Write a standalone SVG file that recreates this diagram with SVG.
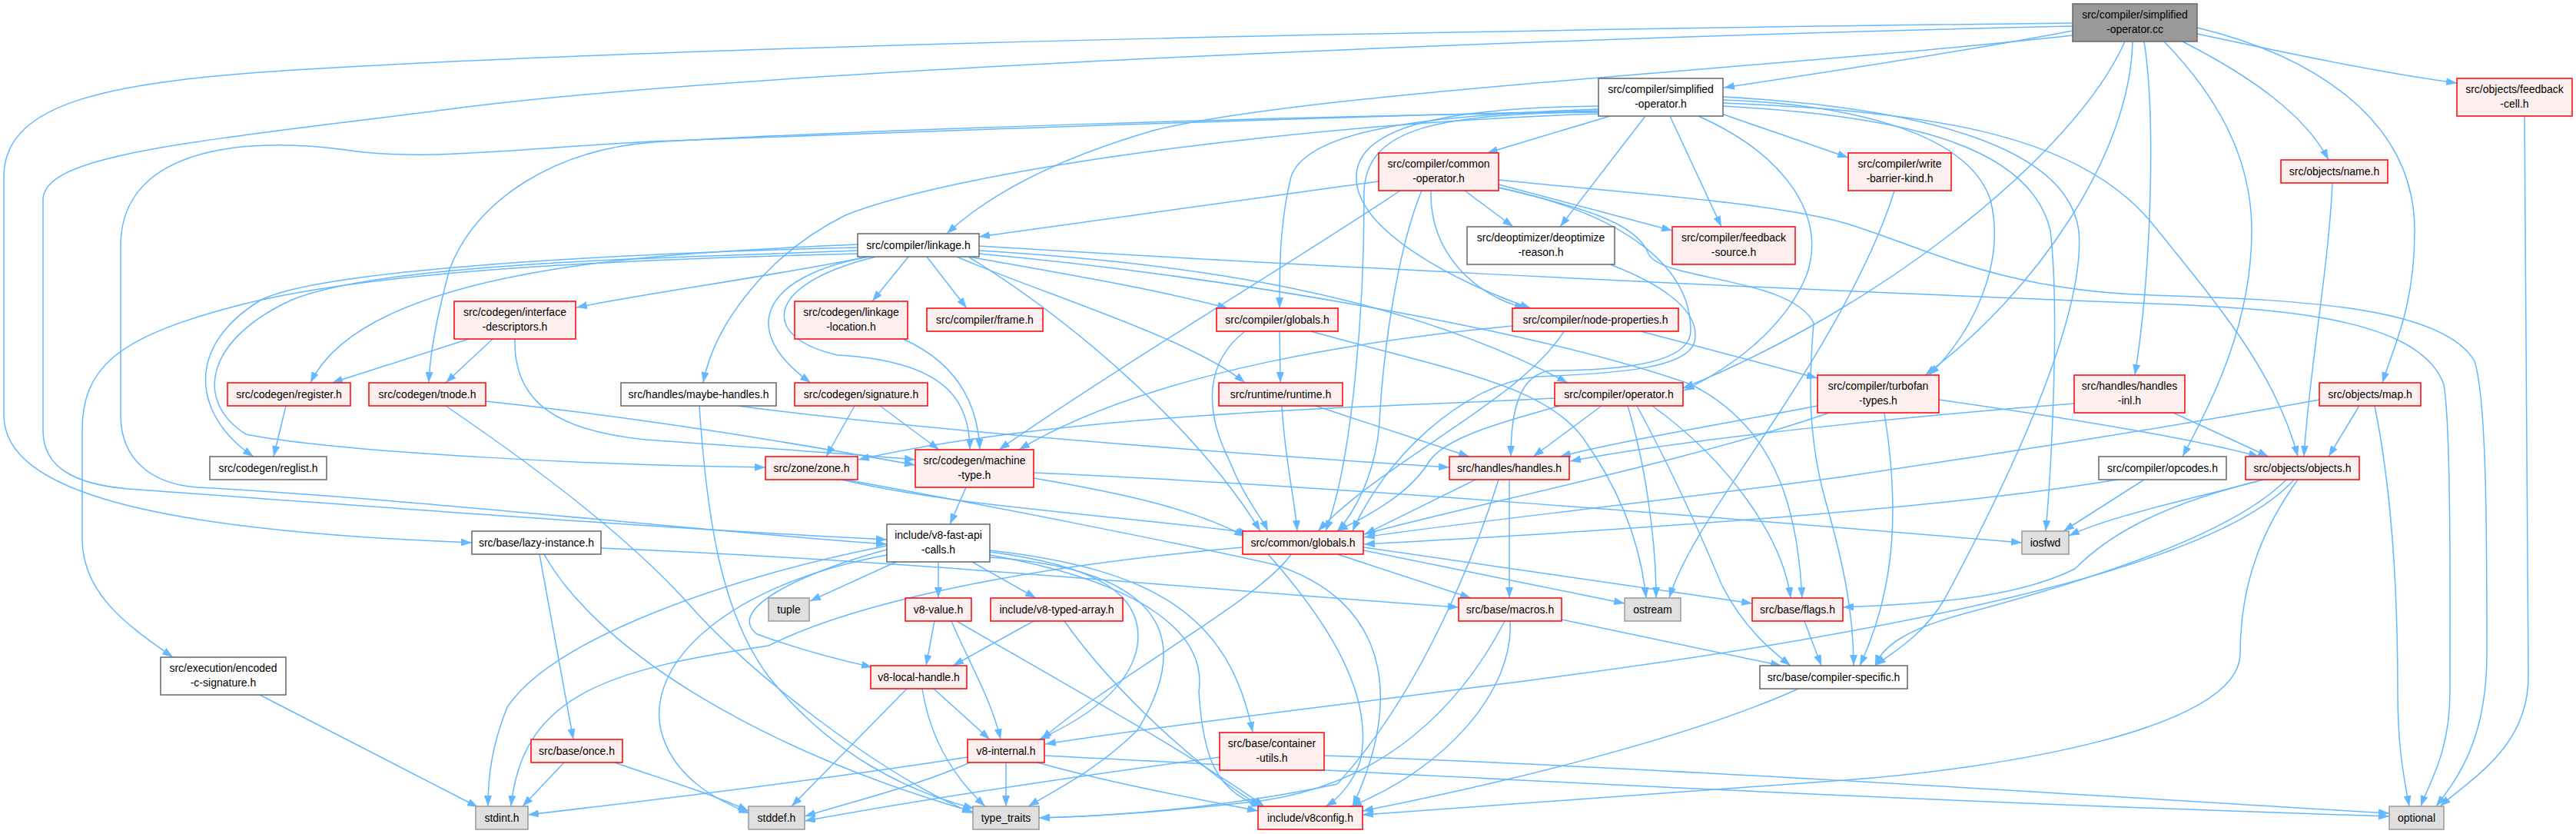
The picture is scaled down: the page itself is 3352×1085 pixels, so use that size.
<svg xmlns="http://www.w3.org/2000/svg" width="3352" height="1085" viewBox="0 0 3352 1085">
<defs>
<style>
.e{fill:none;stroke:#63b8ff;stroke-width:1.5;marker-end:url(#a)}
.nd rect{stroke-width:1.5}
.r rect{fill:#fff0f0;stroke:#ff0000}
.w rect{fill:#ffffff;stroke:#666666}
.g rect{fill:#e0e0e0;stroke:#999999}
.k rect{fill:#999999;stroke:#666666}
text{font-family:"Liberation Sans",Arial,Helvetica,sans-serif;font-size:14px;fill:#000000;text-anchor:middle}
</style>
<marker id="a" viewBox="0 0 14 10" refX="14" refY="5" markerWidth="14" markerHeight="10" markerUnits="userSpaceOnUse" orient="auto"><path d="M0,0 L14,5 L0,10 z" fill="#63b8ff"/></marker>
</defs>
<rect x="0" y="0" width="3352" height="1085" fill="#ffffff"/>
<g id="connectors">
<path class="e" d="M2697,40 C2550,68 2350,98 2243,114"/>
<path class="e" d="M2859,44 C2980,70 3100,95 3197,108"/>
<path class="e" d="M2840,54 C2930,100 3000,150 3030,208"/>
<path class="e" d="M2859,36 C3000,70 3142,150 3142,300 C3142,400 3115,450 3100,498"/>
<path class="e" d="M2816,54 C2880,120 2930,200 2930,300 C2930,420 2880,520 2840,594"/>
<path class="e" d="M2790,54 C2805,150 2800,350 2778,488"/>
<path class="e" d="M2775,54 C2772,200 2650,380 2505,488"/>
<path class="e" d="M2765,54 C2700,200 2450,400 2190,505"/>
<path class="e" d="M2697,46 C2300,90 1700,120 1500,170 C1380,205 1290,250 1232,304"/>
<path class="e" d="M2697,30 C2000,38 1000,55 400,90 C150,105 5,130 5,230 L5,540 C5,640 200,690 614,706"/>
<path class="e" d="M2697,34 C2000,50 1000,90 600,140 C250,185 56,200 56,260 L56,560 C56,610 100,630 166,636 C500,660 900,690 1154,702"/>
<path class="e" d="M2095,151 L1935,199"/>
<path class="e" d="M2240,148 L2405,205"/>
<path class="e" d="M2141,151 L2030,295"/>
<path class="e" d="M2173,151 L2240,295"/>
<path class="e" d="M2080,138 C1900,140 1765,160 1765,230 C1763,300 1900,370 1992,401"/>
<path class="e" d="M2080,142 C1850,150 1700,170 1680,230 C1665,290 1665,350 1665,401"/>
<path class="e" d="M2242,130 C2400,135 2560,170 2590,260 C2610,340 2570,430 2510,488"/>
<path class="e" d="M2242,134 C2500,145 2700,170 2800,290 C2880,390 2960,480 2990,594"/>
<path class="e" d="M2242,138 C2450,150 2640,180 2668,300 C2680,400 2670,600 2662,691"/>
<path class="e" d="M2242,126 C2500,140 2690,190 2705,300 C2715,420 2600,650 2530,780 C2500,830 2460,850 2440,866"/>
<path class="e" d="M2080,146 C1700,150 1100,170 850,185 C720,195 620,260 585,350 C572,400 560,450 558,498"/>
<path class="e" d="M2080,148 C1700,160 1250,220 1100,280 C1000,330 930,420 915,498"/>
<path class="e" d="M2080,144 C1700,152 1100,175 850,184 C650,195 550,210 450,195 C300,175 157,200 157,320 L157,540 C157,600 200,630 257,634 C550,650 900,690 1154,708"/>
<path class="e" d="M2210,151 C2320,200 2380,280 2350,360 C2320,430 2250,480 2191,508"/>
<path class="e" d="M2080,145 C1880,150 1770,160 1775,260 C1775,400 1760,600 1725,691"/>
<path class="e" d="M1906,248 L1969,295"/>
<path class="e" d="M1950,240 L2176,300"/>
<path class="e" d="M1794,236 C1600,262 1400,290 1274,308"/>
<path class="e" d="M1822,248 C1700,330 1450,480 1300,585"/>
<path class="e" d="M1862,248 C1860,330 1920,385 1985,401"/>
<path class="e" d="M1950,244 C2100,275 2200,340 2200,430 C2200,475 2100,482 2020,482 C1975,485 1966,540 1966,594"/>
<path class="e" d="M1850,248 C1820,320 1800,450 1795,550 C1790,620 1760,670 1740,691"/>
<path class="e" d="M1950,234 C2100,250 2300,262 2400,290 C2500,320 2600,378 2800,384 C3000,390 3180,400 3220,470 C3236,520 3236,700 3236,850 C3236,960 3200,1010 3170,1049"/>
<path class="e" d="M1274,320 C1600,340 2200,372 2800,395 C3000,402 3150,420 3180,500 C3190,560 3188,800 3188,900 C3188,980 3160,1020 3150,1049"/>
<path class="e" d="M2465,248 C2440,330 2380,440 2300,560 C2240,650 2190,720 2172,778"/>
<path class="e" d="M3035,238 C3030,350 3005,480 2998,594"/>
<path class="e" d="M3285,151 L3290,880 C3290,970 3220,1010 3175,1049"/>
<path class="e" d="M1130,334 C1000,360 850,380 750,400"/>
<path class="e" d="M1182,334 L1135,392"/>
<path class="e" d="M1206,334 L1258,401"/>
<path class="e" d="M1260,334 C1350,350 1500,375 1598,401"/>
<path class="e" d="M1245,334 C1350,380 1550,440 1620,498"/>
<path class="e" d="M1274,326 C1500,340 1800,370 2040,498"/>
<path class="e" d="M1116,326 C900,335 500,340 380,390 C270,440 250,520 320,565 C450,590 800,606 996,608"/>
<path class="e" d="M1116,318 C900,328 480,340 404,498"/>
<path class="e" d="M1116,322 C800,330 420,350 340,390 C240,450 250,540 330,594"/>
<path class="e" d="M1130,334 C990,360 960,430 1055,498"/>
<path class="e" d="M1140,334 C990,370 990,440 1090,462 C1230,470 1262,520 1262,585"/>
<path class="e" d="M1116,330 C900,336 500,345 300,400 C150,440 107,480 107,560 L107,700 C107,770 160,810 225,855"/>
<path class="e" d="M1260,334 C1400,420 1560,560 1640,691"/>
<path class="e" d="M1274,330 C1600,360 2000,430 2200,500 C2320,560 2340,680 2345,778"/>
<path class="e" d="M1950,244 C2060,270 2130,290 2145,330 C2160,365 2330,360 2360,420 C2355,480 2350,560 2375,650 C2395,720 2412,790 2412,866"/>
<path class="e" d="M610,441 L432,498"/>
<path class="e" d="M641,441 L580,498"/>
<path class="e" d="M670,441 C668,520 720,560 840,572 C950,580 1100,590 1191,598"/>
<path class="e" d="M1175,441 C1240,470 1272,520 1275,585"/>
<path class="e" d="M1665,431 L1666,498"/>
<path class="e" d="M1620,431 C1570,470 1565,530 1600,600 C1620,650 1640,670 1650,691"/>
<path class="e" d="M1706,431 C1880,480 2010,500 2060,570 C2110,640 2135,710 2142,778"/>
<path class="e" d="M1968,424 C1800,440 1500,480 1326,585"/>
<path class="e" d="M2035,431 C1980,520 1800,600 1715,691"/>
<path class="e" d="M2135,431 L2365,492"/>
<path class="e" d="M1712,528 L1912,594"/>
<path class="e" d="M1668,528 C1672,600 1685,650 1688,691"/>
<path class="e" d="M2023,518 C1800,530 1400,535 1117,598"/>
<path class="e" d="M2084,528 L1995,594"/>
<path class="e" d="M2030,528 C1950,550 1880,570 1860,600 C1830,650 1760,680 1740,691"/>
<path class="e" d="M2118,528 C2140,600 2155,700 2155,778"/>
<path class="e" d="M2150,528 C2250,600 2320,700 2330,778"/>
<path class="e" d="M2130,528 C2180,620 2215,700 2240,760 C2270,820 2310,850 2330,866"/>
<path class="e" d="M2365,528 C2250,550 2100,575 2030,594"/>
<path class="e" d="M2380,537 C2200,600 1900,660 1775,695"/>
<path class="e" d="M2523,520 C2700,545 2850,570 2940,594"/>
<path class="e" d="M2452,537 C2470,650 2470,760 2420,866"/>
<path class="e" d="M2699,525 C2500,540 2200,570 2043,600"/>
<path class="e" d="M2828,537 L2952,594"/>
<path class="e" d="M3070,528 L3030,594"/>
<path class="e" d="M3090,528 C3115,650 3120,800 3120,900 C3120,980 3130,1020 3135,1049"/>
<path class="e" d="M3018,520 C2800,560 2600,590 2400,620 C2100,660 1900,680 1775,699"/>
<path class="e" d="M2790,624 L2685,691"/>
<path class="e" d="M2755,624 C2600,650 2300,680 1775,708"/>
<path class="e" d="M2945,624 C2850,650 2750,670 2692,697"/>
<path class="e" d="M2945,624 C2800,660 2740,700 2700,740 C2620,780 2500,786 2398,790"/>
<path class="e" d="M2975,624 C2900,700 2700,760 2550,800 C2480,820 2450,840 2440,866"/>
<path class="e" d="M2985,624 C2900,720 2600,790 2300,840 C2000,890 1600,930 1360,968"/>
<path class="e" d="M2990,624 C2950,680 2915,750 2915,850 C2915,950 2600,1000 2400,1015 C2100,1035 1900,1050 1773,1060"/>
<path class="e" d="M1095,624 C1250,660 1450,670 1625,693"/>
<path class="e" d="M1100,624 C1300,660 1560,712 1660,735 C1800,780 1830,900 1760,1049"/>
<path class="e" d="M1257,634 L1236,682"/>
<path class="e" d="M1345,622 C1450,640 1550,660 1620,698"/>
<path class="e" d="M1345,615 C1700,630 2200,670 2631,706"/>
<path class="e" d="M1964,624 L1964,778"/>
<path class="e" d="M1920,624 L1776,695"/>
<path class="e" d="M1950,624 C1920,720 1850,900 1740,1020 C1600,1050 1450,1062 1352,1064"/>
<path class="e" d="M782,713 C1200,730 1600,770 1898,790"/>
<path class="e" d="M702,721 L746,962"/>
<path class="e" d="M708,721 C780,850 1000,980 1266,1056"/>
<path class="e" d="M1166,731 L1054,782"/>
<path class="e" d="M1221,731 L1221,778"/>
<path class="e" d="M1265,731 L1348,778"/>
<path class="e" d="M1154,715 C1060,740 940,790 985,825 C1040,845 1090,858 1135,868"/>
<path class="e" d="M1288,718 C1420,735 1490,770 1480,840 C1470,900 1400,940 1352,962"/>
<path class="e" d="M1154,722 C950,760 840,860 860,950 C875,1010 930,1040 975,1058"/>
<path class="e" d="M1288,725 C1500,740 1560,820 1480,950 C1430,1000 1370,1030 1338,1049"/>
<path class="e" d="M1288,722 C1500,760 1570,830 1560,900 C1565,980 1580,1030 1642,1049"/>
<path class="e" d="M1154,710 C950,750 720,830 660,920 C640,970 635,1010 635,1049"/>
<path class="e" d="M1288,716 C1500,740 1600,800 1630,953"/>
<path class="e" d="M1740,721 L1914,778"/>
<path class="e" d="M1774,716 L2114,785"/>
<path class="e" d="M1774,712 L2280,785"/>
<path class="e" d="M1680,721 C1640,780 1450,880 1355,962"/>
<path class="e" d="M1617,712 C1300,740 1100,790 1000,840 C800,870 680,900 665,1049"/>
<path class="e" d="M1650,721 C1720,800 1790,900 1770,990 C1760,1020 1740,1040 1725,1049"/>
<path class="e" d="M1216,808 L1205,866"/>
<path class="e" d="M1238,808 C1260,860 1290,910 1302,962"/>
<path class="e" d="M1245,808 C1350,870 1550,980 1645,1049"/>
<path class="e" d="M1345,808 L1240,866"/>
<path class="e" d="M1385,808 C1450,900 1560,1000 1640,1049"/>
<path class="e" d="M2032,806 L2318,866"/>
<path class="e" d="M1965,808 C1970,900 1880,1000 1758,1049"/>
<path class="e" d="M1958,808 C1900,920 1800,1020 1640,1042 C1500,1058 1420,1062 1352,1064"/>
<path class="e" d="M2348,808 L2370,866"/>
<path class="e" d="M338,904 L622,1050"/>
<path class="e" d="M1180,896 L1030,1049"/>
<path class="e" d="M1200,896 C1210,960 1240,1010 1282,1049"/>
<path class="e" d="M1215,896 L1288,962"/>
<path class="e" d="M2340,896 C2200,960 1950,1020 1773,1055"/>
<path class="e" d="M734,992 L680,1049"/>
<path class="e" d="M800,992 C850,1010 920,1030 974,1055"/>
<path class="e" d="M1259,985 C1100,1010 900,1035 687,1060"/>
<path class="e" d="M1262,992 C1200,1020 1120,1040 1047,1062"/>
<path class="e" d="M1309,992 L1309,1049"/>
<path class="e" d="M1350,992 C1450,1020 1560,1040 1637,1055"/>
<path class="e" d="M1359,983 C1700,1000 2400,1040 3109,1062"/>
<path class="e" d="M1587,985 C1400,1010 1200,1040 1047,1068"/>
<path class="e" d="M1723,983 C2200,1000 2800,1040 3109,1058"/>
<path class="e" d="M372,528 L356,594"/>
<path class="e" d="M1112,528 L1075,594"/>
<path class="e" d="M1145,528 L1222,585"/>
<path class="e" d="M960,528 C1200,560 1600,590 1886,608"/>
<path class="e" d="M910,528 C920,680 940,800 1000,880 C1080,980 1180,1030 1268,1052"/>
<path class="e" d="M632,522 C800,540 1000,570 1191,605"/>
<path class="e" d="M580,528 C700,610 820,700 900,790 C980,880 1150,1010 1266,1058"/>
<path class="e" d="M2095,344 C2150,365 2215,400 2205,445 C2195,480 2100,486 2000,490 C1900,500 1800,600 1760,691"/>
</g>
<g id="n_root" class="nd k"><rect x="2697" y="5" width="162" height="49"/><text x="2778" y="24">src/compiler/simplified</text><text x="2778" y="43">-operator.cc</text></g>
<g id="n_soh" class="nd w"><rect x="2080" y="102" width="162" height="49"/><text x="2161" y="121">src/compiler/simplified</text><text x="2161" y="140">-operator.h</text></g>
<g id="n_fcell" class="nd r"><rect x="3197" y="102" width="150" height="49"/><text x="3272" y="121">src/objects/feedback</text><text x="3272" y="140">-cell.h</text></g>
<g id="n_comop" class="nd r"><rect x="1794" y="199" width="156" height="49"/><text x="1872" y="218">src/compiler/common</text><text x="1872" y="237">-operator.h</text></g>
<g id="n_wbk" class="nd r"><rect x="2405" y="199" width="134" height="49"/><text x="2472" y="218">src/compiler/write</text><text x="2472" y="237">-barrier-kind.h</text></g>
<g id="n_name" class="nd r"><rect x="2968" y="208" width="139" height="30"/><text x="3037.5" y="228">src/objects/name.h</text></g>
<g id="n_deopt" class="nd w"><rect x="1909" y="295" width="192" height="49"/><text x="2005" y="314">src/deoptimizer/deoptimize</text><text x="2005" y="333">-reason.h</text></g>
<g id="n_fsrc" class="nd r"><rect x="2176" y="295" width="160" height="49"/><text x="2256" y="314">src/compiler/feedback</text><text x="2256" y="333">-source.h</text></g>
<g id="n_link" class="nd w"><rect x="1116" y="304" width="158" height="30"/><text x="1195" y="324">src/compiler/linkage.h</text></g>
<g id="n_ifd" class="nd r"><rect x="591" y="392" width="158" height="49"/><text x="670" y="411">src/codegen/interface</text><text x="670" y="430">-descriptors.h</text></g>
<g id="n_lloc" class="nd r"><rect x="1034" y="392" width="147" height="49"/><text x="1107.5" y="411">src/codegen/linkage</text><text x="1107.5" y="430">-location.h</text></g>
<g id="n_frame" class="nd r"><rect x="1206" y="401" width="151" height="30"/><text x="1281.5" y="421">src/compiler/frame.h</text></g>
<g id="n_cglob" class="nd r"><rect x="1583" y="401" width="158" height="30"/><text x="1662" y="421">src/compiler/globals.h</text></g>
<g id="n_nodep" class="nd r"><rect x="1968" y="401" width="216" height="30"/><text x="2076" y="421">src/compiler/node-properties.h</text></g>
<g id="n_reg" class="nd r"><rect x="296" y="498" width="160" height="30"/><text x="376" y="518">src/codegen/register.h</text></g>
<g id="n_tnode" class="nd r"><rect x="480" y="498" width="152" height="30"/><text x="556" y="518">src/codegen/tnode.h</text></g>
<g id="n_maybe" class="nd w"><rect x="808" y="498" width="202" height="30"/><text x="909" y="518">src/handles/maybe-handles.h</text></g>
<g id="n_sig" class="nd r"><rect x="1034" y="498" width="173" height="30"/><text x="1120.5" y="518">src/codegen/signature.h</text></g>
<g id="n_runt" class="nd r"><rect x="1586" y="498" width="161" height="30"/><text x="1666.5" y="518">src/runtime/runtime.h</text></g>
<g id="n_oper" class="nd r"><rect x="2023" y="498" width="167" height="30"/><text x="2106.5" y="518">src/compiler/operator.h</text></g>
<g id="n_turbo" class="nd r"><rect x="2365" y="488" width="158" height="49"/><text x="2444" y="507">src/compiler/turbofan</text><text x="2444" y="526">-types.h</text></g>
<g id="n_hinl" class="nd r"><rect x="2699" y="488" width="144" height="49"/><text x="2771" y="507">src/handles/handles</text><text x="2771" y="526">-inl.h</text></g>
<g id="n_map" class="nd r"><rect x="3018" y="498" width="132" height="30"/><text x="3084" y="518">src/objects/map.h</text></g>
<g id="n_regl" class="nd w"><rect x="273" y="594" width="152" height="30"/><text x="349" y="614">src/codegen/reglist.h</text></g>
<g id="n_zone" class="nd r"><rect x="996" y="594" width="120" height="30"/><text x="1056" y="614">src/zone/zone.h</text></g>
<g id="n_mtype" class="nd r"><rect x="1191" y="585" width="154" height="49"/><text x="1268" y="604">src/codegen/machine</text><text x="1268" y="623">-type.h</text></g>
<g id="n_hand" class="nd r"><rect x="1886" y="594" width="156" height="30"/><text x="1964" y="614">src/handles/handles.h</text></g>
<g id="n_opc" class="nd w"><rect x="2731" y="594" width="166" height="30"/><text x="2814" y="614">src/compiler/opcodes.h</text></g>
<g id="n_obj" class="nd r"><rect x="2922" y="594" width="148" height="30"/><text x="2996" y="614">src/objects/objects.h</text></g>
<g id="n_lazy" class="nd w"><rect x="614" y="691" width="168" height="30"/><text x="698" y="711">src/base/lazy-instance.h</text></g>
<g id="n_fast" class="nd w"><rect x="1154" y="682" width="134" height="49"/><text x="1221" y="701">include/v8-fast-api</text><text x="1221" y="720">-calls.h</text></g>
<g id="n_glob" class="nd r"><rect x="1617" y="691" width="157" height="30"/><text x="1695.5" y="711">src/common/globals.h</text></g>
<g id="n_ios" class="nd g"><rect x="2631" y="691" width="61" height="30"/><text x="2661.5" y="711">iosfwd</text></g>
<g id="n_tuple" class="nd g"><rect x="1000" y="778" width="53" height="30"/><text x="1026.5" y="798">tuple</text></g>
<g id="n_v8val" class="nd r"><rect x="1178" y="778" width="86" height="30"/><text x="1221" y="798">v8-value.h</text></g>
<g id="n_tarr" class="nd r"><rect x="1289" y="778" width="172" height="30"/><text x="1375" y="798">include/v8-typed-array.h</text></g>
<g id="n_macros" class="nd r"><rect x="1898" y="778" width="134" height="30"/><text x="1965" y="798">src/base/macros.h</text></g>
<g id="n_ostr" class="nd g"><rect x="2114" y="778" width="73" height="30"/><text x="2150.5" y="798">ostream</text></g>
<g id="n_flags" class="nd r"><rect x="2280" y="778" width="118" height="30"/><text x="2339" y="798">src/base/flags.h</text></g>
<g id="n_enc" class="nd w"><rect x="209" y="855" width="163" height="49"/><text x="290.5" y="874">src/execution/encoded</text><text x="290.5" y="893">-c-signature.h</text></g>
<g id="n_local" class="nd r"><rect x="1133" y="866" width="125" height="30"/><text x="1195.5" y="886">v8-local-handle.h</text></g>
<g id="n_cspec" class="nd w"><rect x="2290" y="866" width="192" height="30"/><text x="2386" y="886">src/base/compiler-specific.h</text></g>
<g id="n_once" class="nd r"><rect x="691" y="962" width="119" height="30"/><text x="750.5" y="982">src/base/once.h</text></g>
<g id="n_intern" class="nd r"><rect x="1259" y="962" width="100" height="30"/><text x="1309" y="982">v8-internal.h</text></g>
<g id="n_cutil" class="nd r"><rect x="1587" y="953" width="136" height="49"/><text x="1655" y="972">src/base/container</text><text x="1655" y="991">-utils.h</text></g>
<g id="n_stdint" class="nd g"><rect x="619" y="1049" width="68" height="30"/><text x="653" y="1069">stdint.h</text></g>
<g id="n_stddef" class="nd g"><rect x="974" y="1049" width="73" height="30"/><text x="1010.5" y="1069">stddef.h</text></g>
<g id="n_ttraits" class="nd g"><rect x="1266" y="1049" width="86" height="30"/><text x="1309" y="1069">type_traits</text></g>
<g id="n_v8cfg" class="nd r"><rect x="1637" y="1049" width="136" height="30"/><text x="1705" y="1069">include/v8config.h</text></g>
<g id="n_opt" class="nd g"><rect x="3109" y="1049" width="71" height="30"/><text x="3144.5" y="1069">optional</text></g>
</svg>
